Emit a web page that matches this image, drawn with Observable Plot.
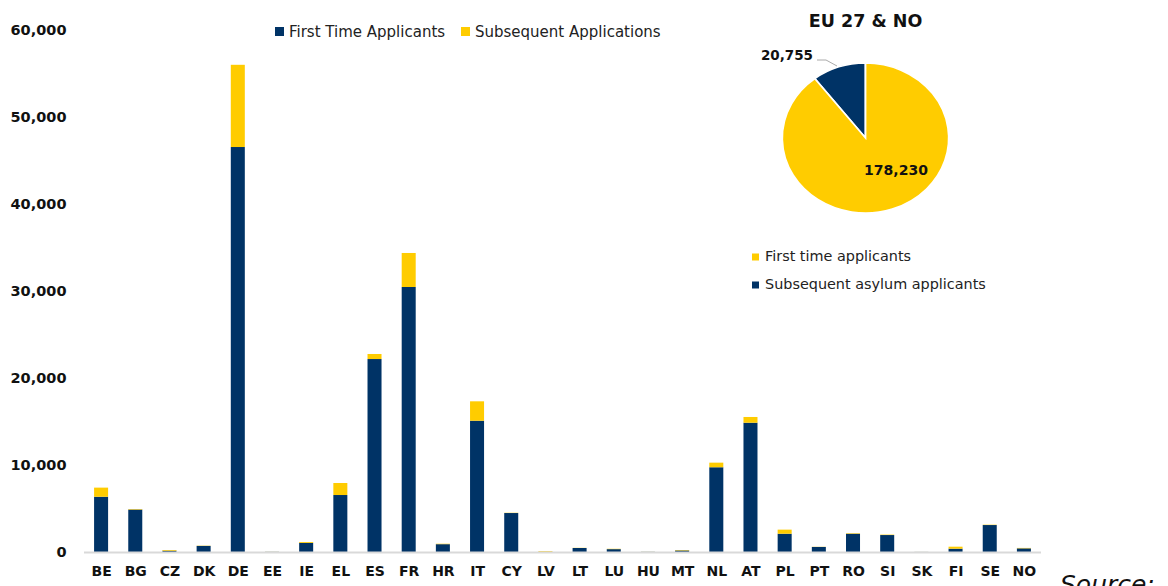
<!DOCTYPE html>
<html>
<head>
<meta charset="utf-8">
<script src="https://cdn.jsdelivr.net/npm/d3@7"></script>
<script src="https://cdn.jsdelivr.net/npm/@observablehq/plot@0.6"></script>
<style>
  html, body { margin: 0; padding: 0; background: #fff; }
  #chart { width: 1168px; height: 586px; overflow: hidden; }
</style>
</head>
<body>
<div id="chart"></div>
<script>
const countries = ["BE","BG","CZ","DK","DE","EE","IE","EL","ES","FR","HR","IT","CY","LV","LT","LU","HU","MT","NL","AT","PL","PT","RO","SI","SK","FI","SE","NO"];
const firstTime = [6350, 4880, 150, 700, 46550, 20, 1050, 6550, 22180, 30460, 900, 15090, 4480, 20, 460, 330, 20, 180, 9740, 14860, 2100, 580, 2100, 1950, 10, 380, 3100, 420];
const subsequent = [1050, 60, 80, 30, 9450, 10, 100, 1380, 580, 3910, 50, 2230, 30, 80, 20, 40, 10, 50, 530, 660, 470, 20, 60, 50, 5, 230, 40, 50];
const seriesNames = ["First Time Applicants", "Subsequent Applications"];
const seriesColors = ["#003366", "#FFCC00"];
const yTicks = [0, 10000, 20000, 30000, 40000, 50000, 60000];

const pieTitle = "EU 27 & NO";
const pieLabels = ["First time applicants", "Subsequent asylum applicants"];
const pieValues = [178230, 20755];
const pieColors = ["#FFCC00", "#003366"];
const sourceText = "Source:";

const rows = [];
countries.forEach((c, i) => {
  rows.push({country: c, series: seriesNames[0], value: firstTime[i]});
  rows.push({country: c, series: seriesNames[1], value: subsequent[i]});
});

const NS = "http://www.w3.org/2000/svg";
function el(tag, attrs, text) {
  const e = document.createElementNS(NS, tag);
  for (const k in attrs) e.setAttribute(k, attrs[k]);
  if (text != null) e.textContent = text;
  return e;
}

// top legend mark
function topLegend(index, scales) {
  const g = el("g", {"text-anchor": "start"});
  let x = 275;
  const y = 32;
  seriesNames.forEach((name) => {
    g.appendChild(el("rect", {x: x, y: y - 5, width: 9, height: 9, fill: scales.color(name)}));
    g.appendChild(el("text", {x: x + 14, y: y, "text-anchor": "start", "dominant-baseline": "middle", "font-family": "DejaVu Sans", "font-size": 15, fill: "#222"}, name));
    x += 14 + 158 + 14;
  });
  return g;
}

// pie mark
function pieMark() {
  const g = el("g", {"text-anchor": "start"});
  const cx = 865.5, cy = 138, r = 75;
  const total = d3.sum(pieValues);
  const start = -2 * Math.PI * pieValues[1] / total;
  const arcsData = d3.pie().sort(null).startAngle(start).endAngle(start + 2 * Math.PI)([pieValues[1], pieValues[0]]);
  const arc = d3.arc().innerRadius(0).outerRadius(r);
  const pg = el("g", {transform: `translate(${cx},${cy}) scale(1.11,1)`});
  const cols = [pieColors[1], pieColors[0]];
  arcsData.forEach((a, i) => {
    pg.appendChild(el("path", {d: arc(a), fill: cols[i], stroke: "#fff", "stroke-width": 1.6}));
  });
  g.appendChild(pg);
  g.appendChild(el("text", {x: cx, y: 27, "text-anchor": "middle", "font-family": "DejaVu Sans", "font-weight": "bold", "font-size": 17.5, fill: "#111"}, pieTitle));
  g.appendChild(el("polyline", {points: "817,60 826,60 837,66", fill: "none", stroke: "#aaa", "stroke-width": 1}));
  g.appendChild(el("text", {x: 813, y: 60, "text-anchor": "end", "font-family": "DejaVu Sans", "font-weight": "bold", "font-size": 13.5, fill: "#111"}, d3.format(",")(pieValues[1])));
  g.appendChild(el("text", {x: 896, y: 175, "text-anchor": "middle", "font-family": "DejaVu Sans", "font-weight": "bold", "font-size": 14, fill: "#111"}, d3.format(",")(pieValues[0])));
  [0, 1].forEach((i) => {
    const y = 257 + i * 28;
    g.appendChild(el("rect", {x: 752, y: y - 3.5, width: 7, height: 7, fill: pieColors[i]}));
    g.appendChild(el("text", {x: 765, y: y, "text-anchor": "start", "dominant-baseline": "middle", "font-family": "DejaVu Sans", "font-size": 14.4, fill: "#222"}, pieLabels[i]));
  });
  g.appendChild(el("text", {x: 1060, y: 593, "text-anchor": "start", "font-family": "DejaVu Sans", "font-style": "italic", "font-size": 25, fill: "#111"}, sourceText));
  return g;
}

const chart = Plot.plot({
  width: 1168,
  height: 586,
  marginTop: 30,
  marginBottom: 34,
  marginLeft: 84,
  marginRight: 127,
  style: {fontFamily: "DejaVu Sans", background: "#fff", overflow: "visible"},
  x: {domain: countries, paddingInner: 0.59, paddingOuter: 0.295, round: false, label: null},
  y: {domain: [0, 60000], label: null},
  color: {domain: seriesNames, range: seriesColors},
  marks: [
    Plot.barY(rows, {x: "country", y: "value", fill: "series"}),
    Plot.ruleY([0], {stroke: "#d9d9d9", strokeWidth: 2}),
    Plot.axisY({ticks: yTicks, tickSize: 0, tickPadding: 18, tickFormat: d3.format(","), fontWeight: "bold", fontSize: 14.5, fill: "#111", label: null}),
    Plot.axisX({tickSize: 0, tickPadding: 14, fontWeight: "bold", fontSize: 14, fill: "#111", label: null}),
    topLegend,
    pieMark
  ]
});
document.getElementById("chart").appendChild(chart);
</script>
</body>
</html>
